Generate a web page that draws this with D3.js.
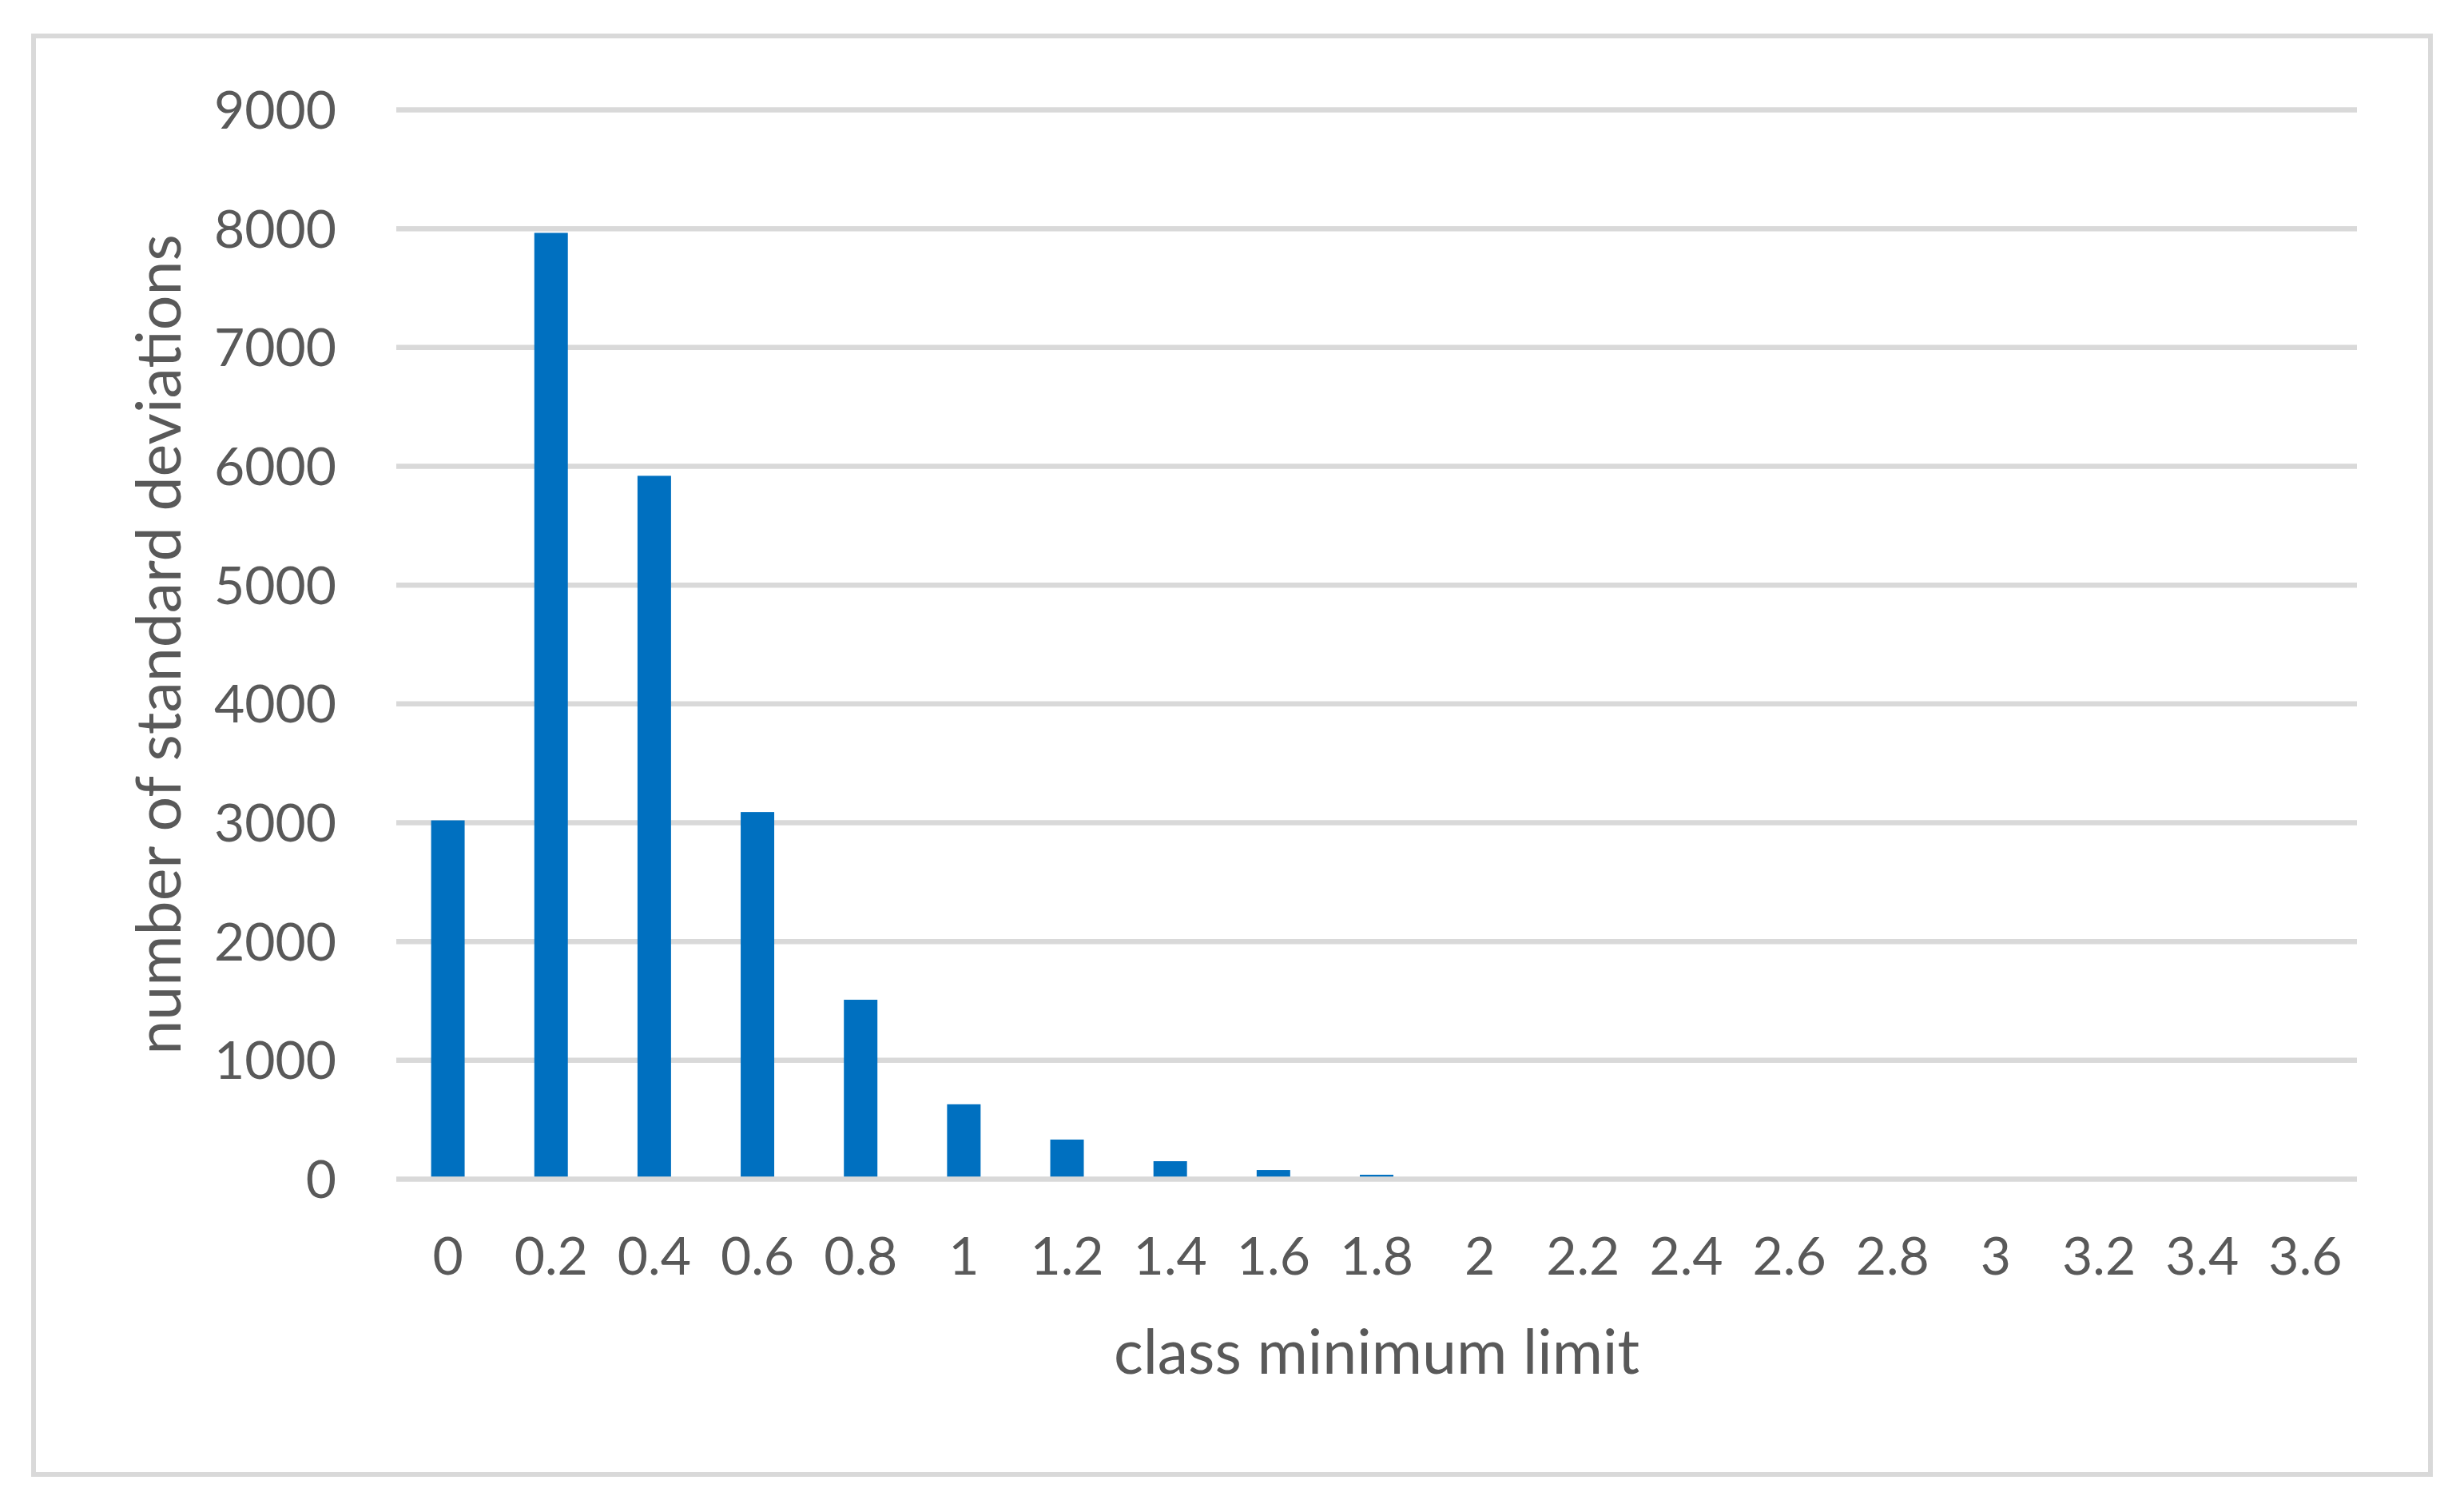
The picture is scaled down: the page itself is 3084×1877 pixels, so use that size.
<!DOCTYPE html>
<html>
<head>
<meta charset="utf-8">
<script src="https://cdnjs.cloudflare.com/ajax/libs/d3/7.8.5/d3.min.js"></script>
<style>
  html, body { margin: 0; padding: 0; background: #fff; }
  text { font-family: Lato, "Open Sans", sans-serif; fill: #595959; }
</style>
</head>
<body>
<script>
var categories = ['0', '0.2', '0.4', '0.6', '0.8', '1', '1.2', '1.4', '1.6', '1.8', '2',
                  '2.2', '2.4', '2.6', '2.8', '3', '3.2', '3.4', '3.6'];
var counts = [3020, 7965, 5920, 3090, 1510, 630, 333, 151, 77, 37, 0,
              0, 0, 0, 0, 0, 0, 0, 0];
var yTicks = [0, 1000, 2000, 3000, 4000, 5000, 6000, 7000, 8000, 9000];
var xTitle = 'class minimum limit';
var yTitle = 'number of standard deviations';

var main = function() {
  var W = 3084, H = 1877;
  var plot = {left: 496, right: 2950, top: 137.5, bottom: 1475.5};

  var svg = d3.select('body')
    .append('svg')
    .attr('width', W)
    .attr('height', H);

  svg.append('rect')
    .attr('width', W)
    .attr('height', H)
    .attr('fill', '#fff');

  // chart area frame
  svg.append('rect')
    .attr('x', 42)
    .attr('y', 45)
    .attr('width', 3000)
    .attr('height', 1800)
    .attr('fill', 'none')
    .attr('stroke', '#d9d9d9')
    .attr('stroke-width', 6);

  var x = d3.scaleBand()
    .domain(categories)
    .range([plot.left, plot.right])
    .paddingInner(0.675)
    .paddingOuter(0.3375);

  var y = d3.scaleLinear()
    .domain([0, 9000])
    .range([plot.bottom, plot.top]);

  // gridlines
  svg.append('g').selectAll('line')
    .data(yTicks.filter(function(d) { return d > 0; }))
    .enter()
    .append('line')
    .attr('x1', plot.left)
    .attr('x2', plot.right)
    .attr('y1', function(d) { return y(d); })
    .attr('y2', function(d) { return y(d); })
    .attr('stroke', '#d9d9d9')
    .attr('stroke-width', 6.5);

  // bars
  svg.append('g').selectAll('rect')
    .data(counts)
    .enter()
    .append('rect')
    .attr('x', function(d, i) { return x(categories[i]); })
    .attr('width', x.bandwidth())
    .attr('y', function(d) { return y(d); })
    .attr('height', function(d) { return y(0) - y(d); })
    .attr('fill', '#0070c0');

  // baseline on top of bars
  svg.append('line')
    .attr('x1', plot.left)
    .attr('x2', plot.right)
    .attr('y1', y(0))
    .attr('y2', y(0))
    .attr('stroke', '#d9d9d9')
    .attr('stroke-width', 6.5);

  // y axis labels
  var yAxis = d3.axisLeft(y)
    .tickValues(yTicks)
    .tickSize(0)
    .tickPadding(0)
    .tickFormat(d3.format('d'));
  var gy = svg.append('g')
    .attr('transform', 'translate(421,0)')
    .call(yAxis);
  gy.select('.domain').remove();
  gy.selectAll('text')
    .attr('dy', '0.35em')
    .style('font-size', '66px')
    .style('font-family', 'Lato, "Open Sans", sans-serif')
    .attr('fill', '#595959');

  // x axis labels
  var xAxis = d3.axisBottom(x)
    .tickSize(0)
    .tickPadding(0);
  var gx = svg.append('g')
    .attr('transform', 'translate(0,1595)')
    .call(xAxis);
  gx.select('.domain').remove();
  gx.selectAll('text')
    .attr('dy', 0)
    .attr('y', 0)
    .style('font-size', '66px')
    .style('font-family', 'Lato, "Open Sans", sans-serif')
    .attr('fill', '#595959');

  // axis titles
  svg.append('text')
    .attr('x', (plot.left + plot.right) / 2)
    .attr('y', 1719)
    .attr('text-anchor', 'middle')
    .style('font-size', '77px')
    .text(xTitle);

  svg.append('text')
    .attr('transform', 'translate(226,' + ((plot.top + plot.bottom) / 2) + ') rotate(-90)')
    .attr('text-anchor', 'middle')
    .style('font-size', '77px')
    .text(yTitle);
}
main();
</script>
</body>
</html>
